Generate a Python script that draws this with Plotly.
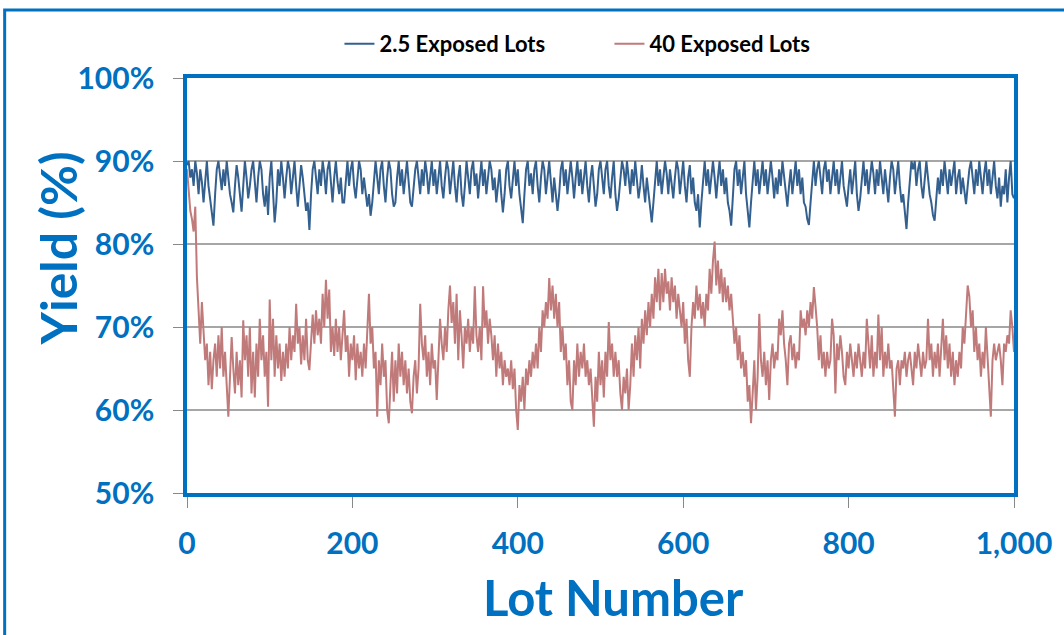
import plotly.graph_objects as go

LOT_STEP = 2

series_names = ["2.5 Exposed Lots", "40 Exposed Lots"]

yield_2_5 = [
    89.5, 90, 88, 89, 87, 90, 88.5, 86, 89, 87.5,
    85, 88, 90, 87, 85.5, 84, 82.2, 86, 89, 90,
    88, 86.5, 89, 87, 90, 88, 86, 85, 83.8, 87,
    89.5, 88, 86, 83.9, 87, 90, 88, 85.5, 87, 89,
    90, 87, 85, 88, 90, 89, 86, 84.5, 87, 83.5,
    88, 90, 86, 82.6, 85, 89, 87, 90, 88, 85.5,
    88, 90, 89, 86, 88, 90, 87, 84.5, 87, 89.5,
    88, 86, 84, 85, 81.7, 86, 89, 90, 88, 86,
    89, 87, 90, 88.5, 86, 89, 90, 87, 85, 88,
    90, 87.5, 86, 88, 85, 85, 88, 90, 87, 89,
    90, 87, 85.5, 88, 90, 89, 86, 88, 86.5, 84.5,
    86, 83.4, 85, 88, 90, 88, 86, 89, 90, 87,
    85, 88, 90, 89, 86, 84.5, 85, 88, 90, 87,
    89, 86, 88, 90, 87.5, 85, 84.5, 87, 89, 90,
    88, 86, 89, 87, 90, 88.5, 86, 88, 90, 87,
    89, 86, 88, 90, 87, 85.5, 88, 90, 89, 86,
    88, 90, 87, 85, 88, 89.5, 86, 84.5, 87, 90,
    88, 86, 89, 90, 87, 88.5, 85.5, 88, 90, 87,
    89, 86, 88, 90, 89, 86.5, 88, 85, 87, 89,
    86, 83.8, 86, 89, 90, 87, 85.5, 88, 90, 87,
    89, 86, 84.5, 82.5, 86, 89, 90, 87, 88.5, 86,
    89, 90, 87, 85, 88, 90, 89, 86, 88, 90,
    87.5, 85, 88, 86, 84, 86, 89, 90, 87, 89,
    86, 88, 90, 88, 85.5, 88, 90, 87, 89, 86,
    88, 90, 87, 85, 88, 89.5, 87, 84.5, 86, 89,
    90, 88, 86, 89, 90, 87, 85.5, 88, 90, 86,
    84, 85.5, 88, 90, 89, 87, 90, 88, 86, 89,
    87, 90, 88, 85.5, 87, 89.5, 87, 85, 88, 86,
    84, 82.6, 85, 88, 90, 87, 89, 86, 88, 90,
    88.5, 86, 89, 87, 85.5, 88, 90, 89, 86, 88,
    90, 87, 85, 88, 89.5, 86, 88, 85, 84, 86,
    82, 85, 88, 90, 87, 89, 86, 88, 90, 88,
    85.5, 88, 90, 87, 89, 86, 88, 85, 84, 82.2,
    86, 89, 90, 87, 89, 86, 88, 90, 86, 84,
    82, 85, 88, 90, 87, 89, 86, 88, 90, 87,
    89, 86, 88, 90, 88, 85.5, 88, 86, 89, 87,
    90, 88, 86, 84.5, 87, 89, 86, 88, 90, 87,
    89, 86, 88, 85, 84.5, 83, 82.3, 85, 88, 90,
    87, 89, 90, 88, 86, 89, 90, 87.5, 89, 86,
    88, 90, 87, 89, 86, 88, 90, 87, 85.5, 84.5,
    87, 89, 86, 88, 90, 86, 84, 85.5, 88, 90,
    87, 89, 86, 88, 90, 88.5, 86, 89, 87, 90,
    88, 86, 89, 87, 85, 88, 90, 89, 86, 88,
    90, 87, 85, 86, 84, 81.8, 85, 88, 90, 89,
    90, 87, 89, 90, 87, 85.5, 88, 90, 88, 86,
    85, 83.5, 82.8, 85, 88, 86, 89, 87, 90, 88,
    86, 89, 87, 88.5, 90, 86, 88, 89, 86, 88,
    86.5, 84.8, 87, 89, 90, 88, 86, 89, 87, 90,
    88, 86, 88.5, 90, 87, 89, 86, 88, 90, 87,
    85.5, 88, 84.5, 87, 86, 89, 85, 88, 90, 86,
    85.5,
]

yield_40 = [
    89, 86, 84, 83, 81.5, 84.5, 76, 72, 68, 73,
    68.5, 66, 68, 63, 67, 62.5, 66, 68, 64, 69,
    65, 70, 64, 67, 63, 59.2, 64, 68.8, 65, 62,
    67, 63, 66, 61.5, 70.8, 66, 69, 64, 70, 62,
    67, 61.5, 68, 64, 71, 66, 69, 64, 67, 60.4,
    73.3, 66, 71, 64, 69, 65, 68, 63.5, 67, 64,
    68, 65, 70, 66, 69, 67, 72.8, 68, 70, 65.5,
    69, 66, 71, 66, 64.8, 69, 71.5, 68, 72, 69,
    71, 68, 74, 70, 75.7, 71, 74.5, 67, 70, 66.5,
    71, 67, 70, 66, 69, 72, 67, 69, 64, 68,
    66, 69, 63.6, 68, 65, 67, 64, 68, 65, 70,
    74, 68, 70, 65, 67, 59.2, 66, 63, 68, 64,
    66, 60, 58.4, 63, 67, 61, 66, 62, 68, 64,
    67, 63, 66, 62, 65, 61, 59.6, 64, 66, 62,
    65, 72.8, 68, 66, 69, 64, 67, 63, 68, 65,
    66, 61.2, 67, 71, 68, 66, 70, 67, 72, 75,
    70.5, 73, 68, 74, 66, 72, 69, 65, 70, 68,
    71, 67, 70, 68, 74.9, 69, 67, 70, 66, 74.9,
    70, 72, 68, 71, 69, 66, 69, 64, 68, 65,
    67, 63, 66, 64, 65, 63, 66, 62.5, 65, 60,
    57.6, 63, 61, 64, 60, 65, 63, 66, 64, 67,
    65, 68, 65, 70, 67, 72, 70, 73, 71, 75.9,
    72, 75, 71, 74, 70, 73, 67, 70, 66, 68,
    63, 66, 61, 60, 66, 63, 68, 64, 67, 65,
    68, 64, 66, 63, 65, 62, 58, 64, 61, 67,
    63, 66, 61.5, 67, 64, 70.6, 66, 68, 64, 67,
    64, 66, 62, 60, 64, 62, 65, 60, 63, 68,
    64, 69, 66, 70, 65, 71, 68, 72, 69, 73,
    70, 74, 71, 76, 73, 77, 72, 76.5, 73, 77,
    74, 75.5, 72, 76, 73, 75, 71, 74, 72, 70,
    73, 68, 71, 66, 64, 70, 73, 71, 75, 72,
    74, 71, 73, 70, 74, 72, 77, 74, 78, 80.3,
    75, 78, 74, 77, 73, 76, 73, 75, 72, 74,
    71, 68, 70, 66, 69, 65, 67, 64, 66, 61,
    63, 58.4, 62, 66, 60, 64, 71.6, 66, 64, 67,
    63, 66, 61.2, 66, 68, 65, 67, 66, 71, 69,
    72, 68, 66, 63, 68, 69, 66, 68, 65, 67,
    66, 72, 70, 71, 69, 72, 70, 73, 71, 74.8,
    72.5, 70, 66, 69, 65, 67, 64, 67, 65, 66,
    71, 69, 62, 68, 66, 69, 67, 64, 63, 67,
    65, 68, 66, 64, 67, 65, 68, 66, 64, 67,
    65, 71, 68, 65, 69, 64, 67, 65, 71.5, 66,
    70, 64, 67, 65, 68, 65, 66, 63, 59.2, 65,
    66, 63, 66, 65, 67, 64, 66, 67, 65, 63,
    67, 65, 68, 66, 64, 67, 65, 66, 71, 66,
    68, 64, 67, 65, 68, 64, 67, 71, 66, 69,
    65, 68, 64, 67, 63, 66, 64, 67, 65, 70,
    68, 71, 75, 73.7, 70, 72, 67, 70, 66, 68,
    64, 67, 65, 70, 66, 63, 59.2, 66, 68, 66,
    67, 68, 66, 63, 68, 67, 69, 68, 72, 70,
    67,
]

y_tick_vals = [50, 60, 70, 80, 90, 100]
y_tick_text = ["50%", "60%", "70%", "80%", "90%", "100%"]
x_tick_vals = [0, 200, 400, 600, 800, 1000]
x_tick_text = ["0", "200", "400", "600", "800", "1,000"]

lots_a = [i * LOT_STEP for i in range(len(yield_2_5))]
lots_b = [i * LOT_STEP for i in range(len(yield_40))]

BLUE = "#0070C0"
FONT = "Lato"

fig = go.Figure()
fig.add_trace(go.Scatter(x=lots_a, y=yield_2_5, mode="lines", name=series_names[0],
                         line=dict(color="#34608F", width=2)))
fig.add_trace(go.Scatter(x=lots_b, y=yield_40, mode="lines", name=series_names[1],
                         line=dict(color="#C07A7A", width=2)))

W, H = 1064, 635
L, R, T, B = 187, 47, 78, 142
pw, ph = W - L - R, H - T - B


def px(x):
    return (x - L) / pw


def py(y):
    return (H - B - y) / ph


fig.update_layout(
    width=W, height=H,
    margin=dict(l=L, r=R, t=T, b=B),
    paper_bgcolor="white", plot_bgcolor="white",
    font=dict(family=FONT),
    showlegend=True,
    legend=dict(orientation="h", x=px(340), xanchor="left", y=py(44), yanchor="middle",
                font=dict(family=FONT, size=22, color="black", weight="bold"),
                entrywidth=225, bgcolor="rgba(0,0,0,0)"),
    xaxis=dict(range=[0, 1000], tickvals=x_tick_vals, ticktext=x_tick_text,
               showgrid=False, zeroline=False,
               showline=True, mirror=True, linecolor=BLUE, linewidth=3.5,
               ticks="outside", ticklen=11, tickcolor="#888888", tickwidth=1,
               ticklabelstandoff=10,
               tickfont=dict(family=FONT, size=30, color=BLUE, weight="bold")),
    yaxis=dict(range=[50, 100], tickvals=y_tick_vals, ticktext=y_tick_text,
               showgrid=True, gridcolor="#A6A6A6", gridwidth=1.5, zeroline=False,
               showline=True, mirror=True, linecolor=BLUE, linewidth=3.5,
               ticks="outside", ticklen=10, tickcolor="#888888", tickwidth=1,
               ticklabelstandoff=13,
               tickfont=dict(family=FONT, size=30, color=BLUE, weight="bold")),
    annotations=[
        dict(text="Yield (%)", xref="paper", yref="paper", x=px(58), y=py(248),
             showarrow=False, textangle=-90, xanchor="center", yanchor="middle",
             font=dict(family=FONT, size=50, color=BLUE, weight="bold")),
        dict(text="Lot Number", xref="paper", yref="paper", x=px(615), y=py(597),
             showarrow=False, xanchor="center", yanchor="middle",
             font=dict(family=FONT, size=49, color=BLUE, weight="bold")),
    ],
    shapes=[
        dict(type="rect", xref="paper", yref="paper",
             x0=px(4), x1=px(1075), y0=py(645), y1=py(10),
             line=dict(color=BLUE, width=3), fillcolor="rgba(0,0,0,0)", layer="below"),
    ],
)

fig.write_html("out.html", config={"displayModeBar": False},
               post_script="document.body.style.margin='0';")
